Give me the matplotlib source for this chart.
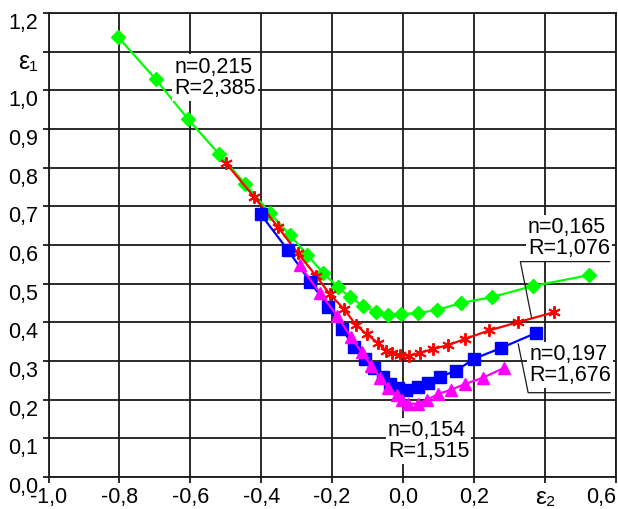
import matplotlib
matplotlib.use("Agg")
import matplotlib.pyplot as plt
import matplotlib.transforms as mtransforms

plt.rcParams['font.family'] = ['Liberation Sans', 'DejaVu Sans']
plt.rcParams['font.size'] = 15

# Curve data (eps2, eps1)
green_x = [-0.803, -0.698, -0.606, -0.519, -0.445, -0.375, -0.319, -0.270, -0.225,
           -0.183, -0.150, -0.112, -0.076, -0.041, -0.006, 0.042, 0.097, 0.163,
           0.250, 0.367, 0.525]
green_y = [1.137, 1.029, 0.925, 0.835, 0.758, 0.682, 0.626, 0.574, 0.527,
           0.491, 0.465, 0.442, 0.427, 0.419, 0.421, 0.424, 0.432, 0.450,
           0.465, 0.494, 0.522]

red_x = [-0.499, -0.420, -0.353, -0.297, -0.245, -0.206, -0.166, -0.133, -0.102,
         -0.071, -0.048, -0.031, -0.008, 0.018, 0.049, 0.084, 0.127, 0.175,
         0.243, 0.323, 0.426]
red_y = [0.811, 0.724, 0.647, 0.579, 0.520, 0.472, 0.434, 0.393, 0.369,
         0.347, 0.327, 0.321, 0.316, 0.313, 0.321, 0.331, 0.341, 0.357,
         0.379, 0.400, 0.426]

blue_x = [-0.401, -0.324, -0.262, -0.211, -0.171, -0.139, -0.107, -0.082, -0.056,
          -0.037, -0.014, 0.008, 0.043, 0.071, 0.104, 0.150, 0.201, 0.275, 0.374]
blue_y = [0.679, 0.586, 0.505, 0.440, 0.383, 0.335, 0.306, 0.281, 0.258,
          0.240, 0.229, 0.225, 0.234, 0.242, 0.259, 0.275, 0.306, 0.333, 0.372]

mag_x = [-0.291, -0.234, -0.185, -0.147, -0.116, -0.089, -0.065, -0.042, -0.018,
         -0.004, 0.015, 0.041, 0.069, 0.100, 0.134, 0.176, 0.226, 0.285]
mag_y = [0.547, 0.475, 0.416, 0.361, 0.322, 0.286, 0.257, 0.230, 0.213,
         0.198, 0.190, 0.189, 0.200, 0.215, 0.225, 0.241, 0.257, 0.282]

x_ticks = [-1.0, -0.8, -0.6, -0.4, -0.2, 0.0, 0.2, 0.4, 0.6]
x_labels = ["-1,0", "-0,8", "-0,6", "-0,4", "-0,2", "0,0", "0,2", "ε₂", "0,6"]
y_ticks = [0.0, 0.1, 0.2, 0.3, 0.4, 0.5, 0.6, 0.7, 0.8, 0.9, 1.0, 1.1, 1.2]
y_labels = ["0,0", "0,1", "0,2", "0,3", "0,4", "0,5", "0,6", "0,7", "0,8", "0,9",
            "1,0", "ε₁", "1,2"]

# Labels: text, text position, underline (x0, x1, y), leader end
notes = [
    ("n=0,215\nR=2,385", (-0.645, 1.033), None, None),
    ("n=0,165\nR=1,076", (0.352, 0.618), (0.331, 0.583, 0.557), (0.3625, 0.4125)),
    ("n=0,197\nR=1,676", (0.357, 0.290), (0.353, 0.584, 0.218), (0.325, 0.344)),
    ("n=0,154\nR=1,515", (-0.043, 0.093), None, None),
]

fig = plt.figure(figsize=(6.18, 5.09), dpi=100)
ax = fig.add_axes([0.0785, 0.0629, 0.9178, 0.9116])

gc = '#1a1a1a'
ax.plot(green_x, green_y, color='#00ff00', lw=1.6, marker='D', ms=7.5, zorder=3)
ax.plot(red_x, red_y, color='#ff0000', lw=1.6, marker=(6, 2, 0), ms=9, mew=1.4, zorder=4)
ax.plot(blue_x, blue_y, color='#0000ff', lw=1.6, marker='s', ms=8, zorder=5)
ax.plot(mag_x, mag_y, color='#ff00ff', lw=1.6, marker='^', ms=9, zorder=6)

ax.set_xlim(-1.0, 0.6)
ax.set_ylim(0.0, 1.2)
ax.set_xticks(x_ticks)
ax.set_xticklabels(x_labels)
ax.set_yticks(y_ticks)
ax.set_yticklabels(y_labels)
ax.grid(True, color=gc, lw=1.3)
ax.set_axisbelow(True)
for s in ax.spines.values():
    s.set_color(gc)
    s.set_linewidth(1.3)
ax.tick_params(direction='out', length=4.5, width=1.3, color=gc, pad=3, labelsize=15.5)

# y labels sit a little below their grid line in the original
shift = mtransforms.ScaledTranslation(0, -8 / 100, fig.dpi_scale_trans)
for lab in ax.get_yticklabels():
    lab.set_transform(lab.get_transform() + shift)
    if lab.get_text().startswith("ε"):
        lab.set_fontsize(18)
for lab in ax.get_xticklabels():
    if lab.get_text().startswith("ε"):
        lab.set_fontsize(17.5)
ax.get_xticklabels()[-1].set_ha('right')

for txt, (tx, ty), under, lead in notes:
    ax.text(tx, ty, txt, ha='left', va='center', linespacing=1.0, fontsize=15.5,
            zorder=10, bbox=dict(facecolor='white', edgecolor='none', pad=1.5))
    if under is not None:
        x0, x1, uy = under
        ax.plot([lead[0], x0, x1], [lead[1], uy, uy], color=gc, lw=0.9,
                zorder=11, clip_on=False)

fig.savefig("out.png", dpi=100)
